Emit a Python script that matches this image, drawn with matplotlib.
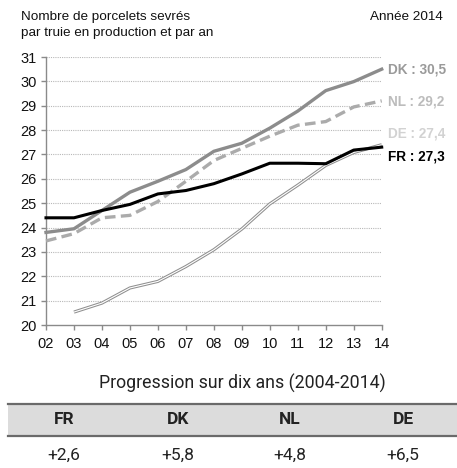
from matplotlib import pyplot as plt
from matplotlib import ticker as tick

# data
years = [2, 3, 4, 5, 6, 7, 8, 9, 10, 11, 12, 13, 14]
fr = [24.4, 24.4, 24.7, 24.95, 25.38, 25.52, 25.8, 26.2, 26.64, 26.64, 26.62, 27.18, 27.3]
dk = [23.8, 23.95, 24.7, 25.45, 25.9, 26.38, 27.13, 27.46, 28.08, 28.78, 29.62, 29.99, 30.5]
nl = [23.45, 23.75, 24.4, 24.5, 25.07, 25.9, 26.75, 27.25, 27.75, 28.2, 28.35, 28.95, 29.2]
de_years = [3, 4, 5, 6, 7, 8, 9, 10, 11, 12, 13, 14]
de = [20.53, 20.9, 21.52, 21.79, 22.4, 23.09, 23.94, 24.97, 25.74, 26.55, 27.08, 27.4]

table_countries = ['FR', 'DK', 'NL', 'DE']
table_progress = ['+2,6', '+5,8', '+4,8', '+6,5']

W, H = 457, 468


def fy(py):
    return 1 - py / H


def fx(px):
    return px / W


plt.rcParams['font.family'] = ['Liberation Sans', 'DejaVu Sans']

fig = plt.figure(figsize=(W / 100, H / 100), dpi=100)
ax = fig.add_axes([fx(46), fy(325), fx(381.7 - 46), (325 - 57) / H])

ax.set_xlim(2, 14)
ax.set_ylim(20, 31)
ax.set_xticks(years)
ax.xaxis.set_major_formatter(tick.FuncFormatter(lambda v, _: f'{int(v):02d}'))
ax.set_yticks(range(20, 32))
for spine in ['top', 'right']:
    ax.spines[spine].set_visible(False)
for spine in ['left', 'bottom']:
    ax.spines[spine].set_color('#8a8a8a')
    ax.spines[spine].set_linewidth(1.0)
ax.tick_params(axis='both', direction='out', length=3.5, width=1.0, color='#8a8a8a',
               labelsize=10.5, labelcolor='#111111', pad=3)
ax.tick_params(axis='x', pad=5)
for yv in range(21, 32):
    ax.axhline(yv, color='#b8b8b8', linewidth=0.8, linestyle=(0, (1, 1)), zorder=1)

# DE: double line (gray outline, white core)
ax.plot(de_years, de, color='#8f8f8f', linewidth=2.3, zorder=3, clip_on=False,
        solid_capstyle='butt')
ax.plot(de_years, de, color='white', linewidth=0.8, zorder=3.1, clip_on=False,
        solid_capstyle='butt')
ax.plot(years, nl, color='#ababab', linewidth=2.4, linestyle=(0, (3.2, 1.6)), zorder=4,
        clip_on=False)
ax.plot(years, dk, color='#8c8c8c', linewidth=2.4, zorder=5, clip_on=False)
ax.plot(years, fr, color='#000000', linewidth=2.2, zorder=6, clip_on=False)

# end labels
end_labels = [('DK', dk[-1], '#9a9a9a', 70), ('NL', nl[-1], '#bcbcbc', 101),
              ('DE', de[-1], '#d2d2d2', 134), ('FR', fr[-1], '#000000', 157)]
for name, val, col, py in end_labels:
    fig.text(fx(388), fy(py), f'{name} : {val:.1f}'.replace('.', ','), color=col,
             fontsize=9.8, fontweight='bold', ha='left', va='center')

fig.text(fx(21), fy(17), 'Nombre de porcelets sevrés', fontsize=9.7, ha='left',
         va='center', color='#111111')
fig.text(fx(21), fy(33), 'par truie en production et par an', fontsize=9.7,
         ha='left', va='center', color='#111111')
fig.text(fx(443), fy(17), 'Année 2014', fontsize=9.7, ha='right', va='center',
         color='#111111')

# table below the chart
fig.text(fx(242), fy(383), 'Progression sur dix ans (2004-2014)', fontsize=12.8,
         ha='center', va='center', color='#222222', family=['Roboto', 'DejaVu Sans'])
fig.patches.append(plt.Rectangle((fx(8), fy(436)), 1 - fx(8), (436 - 404) / H,
                                 transform=fig.transFigure, facecolor='#dcdcdc',
                                 edgecolor='none'))
fig.add_artist(plt.Line2D([fx(8), 1], [fy(404), fy(404)], color='#6a6a6a', linewidth=1.6))
fig.add_artist(plt.Line2D([fx(8), 1], [fy(436), fy(436)], color='#6a6a6a', linewidth=1.6))
col_x = [64, 178, 290, 403]
for cx, name, prog in zip(col_x, table_countries, table_progress):
    fig.text(fx(cx), fy(420), name, fontsize=12.5, fontweight='bold', ha='center',
             va='center', color='#222222', family=['Roboto', 'DejaVu Sans'])
    fig.text(fx(cx), fy(455), prog, fontsize=12.5, ha='center', va='center',
             color='#222222', family=['Roboto', 'DejaVu Sans'])

plt.savefig('out.png', dpi=100)
